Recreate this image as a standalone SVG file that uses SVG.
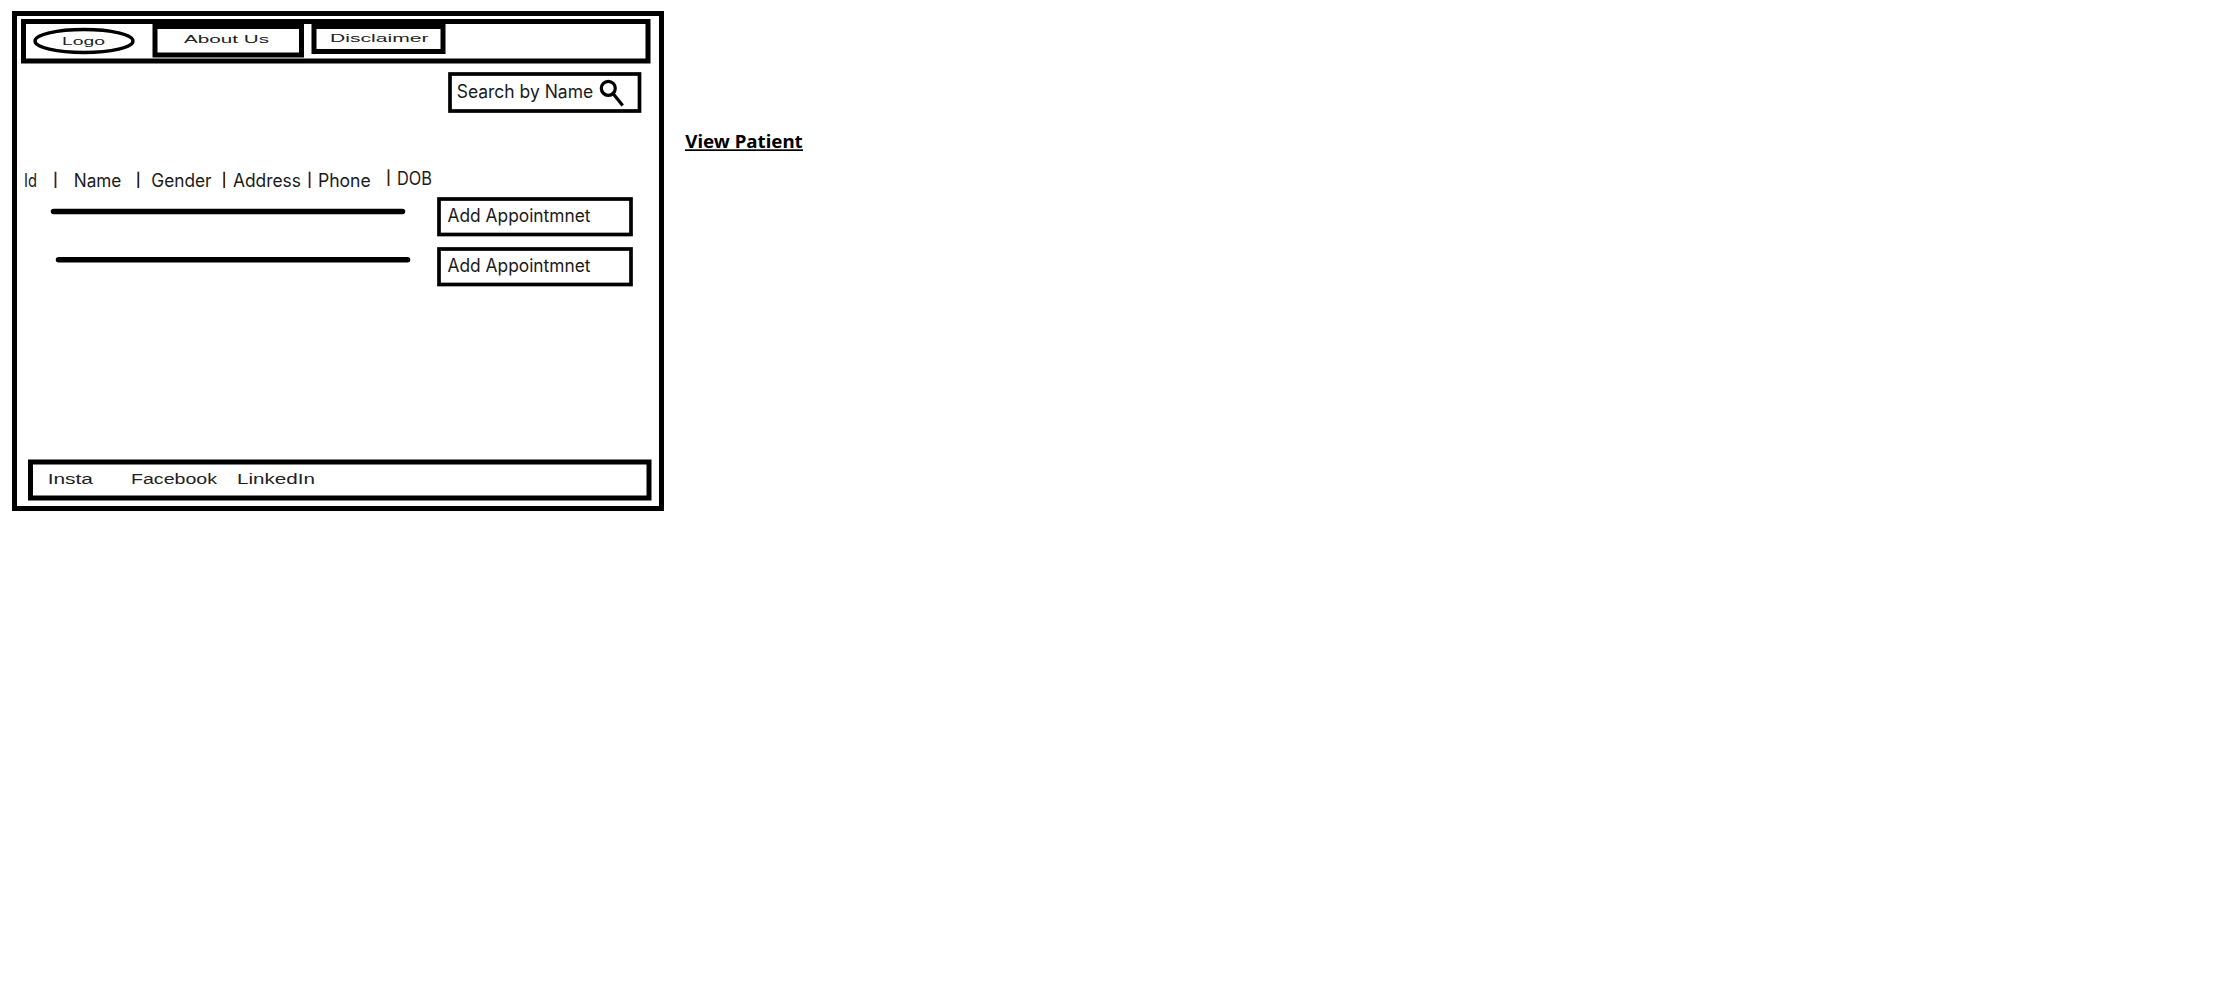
<svg xmlns="http://www.w3.org/2000/svg" width="2218" height="1008" viewBox="0 0 2218 1008">
  <style>
    .box { fill: none; stroke: #000; stroke-width: 5; }
    .thin { fill: none; stroke: #000; stroke-width: 3.7; }
    .wide { font-family: "Liberation Sans", Arial, sans-serif; font-size: 10.5px; fill: #222; }
    .foot { font-family: "Liberation Sans", Arial, sans-serif; font-size: 14px; fill: #222; }
    .lab { font-family: Inter, "Liberation Sans", sans-serif; font-size: 18px; fill: #1a1a1a; }
    .sep { stroke: #4a2412; stroke-width: 1.8; }
    .row { stroke: #000; stroke-width: 5.5; stroke-linecap: round; }
    .link { font-family: "Noto Sans", sans-serif; font-weight: 700; font-size: 17px; fill: #000; }
  </style>
  <rect width="2218" height="1008" fill="#fff"/>
  <g id="page">
    <rect class="box" x="14.5" y="13.5" width="647" height="495"/>
    <rect x="67" y="14" width="4" height="2" fill="#000"/>
  </g>
  <g id="header">
    <rect class="box" x="23.5" y="21.5" width="624.5" height="39.5"/>
  </g>
  <g id="logo">
    <ellipse cx="84" cy="41" rx="49" ry="11.5" fill="none" stroke="#000" stroke-width="3.4"/>
    <text class="wide" x="62" y="45" textLength="43" lengthAdjust="spacingAndGlyphs">Logo</text>
  </g>
  <g id="about-us">
    <rect class="box" x="155" y="26.5" width="146.5" height="28.5"/>
    <text class="wide" x="184" y="43" textLength="85" lengthAdjust="spacingAndGlyphs">About Us</text>
  </g>
  <g id="disclaimer">
    <rect class="box" x="314" y="26.5" width="129" height="25"/>
    <text class="wide" x="330" y="42" textLength="98.5" lengthAdjust="spacingAndGlyphs">Disclaimer</text>
  </g>
  <g id="search">
    <rect class="thin" x="450" y="74" width="189.5" height="37"/>
    <text class="lab" x="456.7" y="97.5" textLength="136.5" lengthAdjust="spacingAndGlyphs">Search by Name</text>
    <circle cx="608.3" cy="88.3" r="7" fill="none" stroke="#000" stroke-width="3.2"/>
    <line x1="613" y1="93.5" x2="622.7" y2="105.5" stroke="#000" stroke-width="3.2"/>
  </g>
  <g id="columns">
    <text class="lab" x="24" y="186.5" textLength="13" lengthAdjust="spacingAndGlyphs">Id</text>
    <line class="sep" x1="55.5" y1="171.7" x2="55.5" y2="188"/>
    <text class="lab" x="73.7" y="186.5" textLength="47.7" lengthAdjust="spacingAndGlyphs">Name</text>
    <line class="sep" x1="138.3" y1="171.7" x2="138.3" y2="188" style="stroke:#1c2440"/>
    <text class="lab" x="151.3" y="186.5" textLength="60.3" lengthAdjust="spacingAndGlyphs">Gender</text>
    <line class="sep" x1="224.2" y1="171.7" x2="224.2" y2="188"/>
    <text class="lab" x="232.9" y="186.5" textLength="68.1" lengthAdjust="spacingAndGlyphs">Address</text>
    <line class="sep" x1="309.6" y1="171.7" x2="309.6" y2="188"/>
    <text class="lab" x="317.9" y="186.5" textLength="52.9" lengthAdjust="spacingAndGlyphs">Phone</text>
    <line class="sep" x1="388.5" y1="169.3" x2="388.5" y2="186"/>
    <text class="lab" x="397" y="184.5" textLength="35" lengthAdjust="spacingAndGlyphs">DOB</text>
  </g>
  <g id="row-1">
    <line class="row" x1="53.5" y1="211.5" x2="402.5" y2="211.5"/>
    <rect class="thin" x="439" y="199" width="192" height="35.5"/>
    <text class="lab" x="447.5" y="221.5" textLength="143" lengthAdjust="spacingAndGlyphs">Add Appointmnet</text>
  </g>
  <g id="row-2">
    <line class="row" x1="58.5" y1="259.8" x2="407.5" y2="259.8"/>
    <rect class="thin" x="439" y="249" width="192" height="35.5"/>
    <text class="lab" x="447.5" y="271.5" textLength="143" lengthAdjust="spacingAndGlyphs">Add Appointmnet</text>
  </g>
  <g id="footer">
    <rect class="box" x="30.5" y="462" width="618.5" height="36"/>
    <text class="foot" x="47.7" y="484" textLength="45.3" lengthAdjust="spacingAndGlyphs">Insta</text>
    <text class="foot" x="131" y="484" textLength="86" lengthAdjust="spacingAndGlyphs">Facebook</text>
    <text class="foot" x="237" y="484" textLength="78" lengthAdjust="spacingAndGlyphs">LinkedIn</text>
  </g>
  <g id="view-patient">
    <text class="link" x="685.3" y="147.5" textLength="117.4" lengthAdjust="spacingAndGlyphs">View Patient</text>
    <rect x="685" y="149.3" width="118" height="1.7" fill="#000"/>
  </g>
  <g id="connectors"></g>
</svg>
